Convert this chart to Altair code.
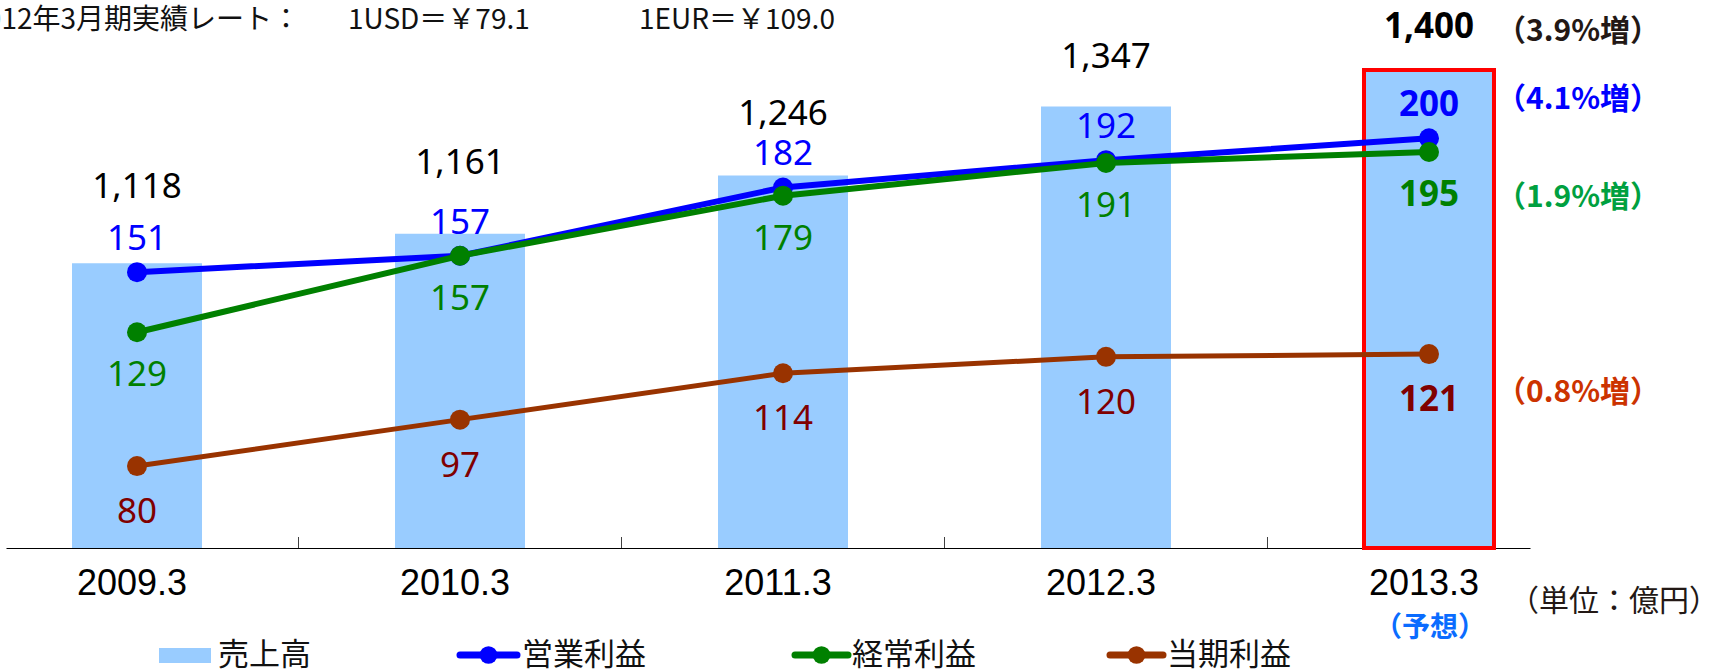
import altair as alt
import pandas as pd

# ---------------- data ----------------
years = ["2009.3", "2010.3", "2011.3", "2012.3", "2013.3"]
sales = [1118, 1161, 1246, 1347, 1400]          # 売上高
operating = [151, 157, 182, 192, 200]           # 営業利益
ordinary = [129, 157, 179, 191, 195]            # 経常利益
net = [80, 97, 114, 120, 121]                   # 当期利益
series_names = ["売上高", "営業利益", "経常利益", "当期利益"]
growth_labels = ["（3.9%増）", "（4.1%増）", "（1.9%増）", "（0.8%増）"]
rate_title = "2012年3月期実績レート："
rate_usd = "1USD＝￥79.1"
rate_eur = "1EUR＝￥109.0"
unit_label = "（単位：億円）"
forecast_label = "（予想）"

# ---------------- layout / style ----------------
W, H = 1524, 508
CJK = "Noto Sans CJK JP"
NUM = "Noto Sans"
BAR_COLOR = "#99CCFF"
C_OP, C_ORD, C_NET = "#0000FF", "#008000", "#993300"
L_OP, L_ORD, L_NET = "#0000FF", "#008000", "#800000"

idx = list(range(len(years)))
df = pd.DataFrame({"idx": idx, "year": years, "sales": sales,
                   "op": operating, "ord": ordinary, "net": net})
last = len(years) - 1

x_scale = alt.Scale(domain=[-0.4056, 4.3127], nice=False, zero=False, padding=0)
x_axis = alt.Axis(title="", labels=False, ticks=False, grid=False, domain=True,
                  domainColor="#000000", domainWidth=1.2)
x_enc = alt.X("idx:Q", scale=x_scale, axis=x_axis)

bar_scale = alt.Scale(domain=[702, 1444], zero=False, nice=False, clamp=True)
bar_lbl_scale = alt.Scale(domain=[483, 1377], zero=False, nice=False)
line_scale = alt.Scale(domain=[50, 236], zero=False, nice=False)

base = alt.Chart(df)

bars = base.mark_bar(size=130, color=BAR_COLOR).encode(
    x=x_enc,
    y=alt.Y("sales:Q", scale=bar_scale, axis=None),
    stroke=alt.condition(alt.datum.idx == last, alt.value("#FF0000"), alt.value(BAR_COLOR)),
    strokeWidth=alt.condition(alt.datum.idx == last, alt.value(4), alt.value(0)),
)


def value_labels(field, scale, color, dy, fmt=""):
    enc = dict(x=x_enc, y=alt.Y(f"{field}:Q", scale=scale, axis=None),
               text=alt.Text(f"{field}:Q", format=fmt) if fmt else alt.Text(f"{field}:Q"))
    normal = base.transform_filter(alt.datum.idx < last).mark_text(
        font=NUM, fontSize=35, color=color, baseline="middle", align="center", dy=dy
    ).encode(**enc)
    bold = base.transform_filter(alt.datum.idx == last).mark_text(
        font=NUM, fontSize=35, color=color, baseline="middle", align="center", dy=dy,
        fontWeight="bold"
    ).encode(**enc)
    return [normal, bold]


bar_labels = value_labels("sales", bar_lbl_scale, "#000000", 0, ",")


def series(field, color, width):
    b = base.encode(x=x_enc, y=alt.Y(f"{field}:Q", scale=line_scale, axis=None))
    return [b.mark_line(color=color, strokeWidth=width),
            b.mark_circle(color=color, size=400, opacity=1)]


net_layers = series("net", C_NET, 5)
op_layers = series("op", C_OP, 6)
ord_layers = series("ord", C_ORD, 6)

op_labels = value_labels("op", line_scale, L_OP, -33)
ord_labels = value_labels("ord", line_scale, L_ORD, 43)
net_labels = value_labels("net", line_scale, L_NET, 46)

# inward ticks between categories
bounds = pd.DataFrame({"idx": [i + 0.5 for i in idx[:-1]]})
ticks = alt.Chart(bounds).mark_rule(color="#404040", strokeWidth=1).encode(
    x=x_enc, y=alt.value(H - 11), y2=alt.value(H))

# category labels
xlabels = base.mark_text(font="Liberation Sans", fontSize=36, color="#000000",
                         baseline="middle", align="center", dx=-5).encode(
    x=x_enc, y=alt.value(543.5), text="year:N")

dummy = pd.DataFrame({"k": [0]})


def note(text, x, y, size, color, weight="normal", align="center", font=CJK):
    return alt.Chart(dummy).mark_text(
        text=text, fontSize=size, color=color, fontWeight=weight, align=align,
        baseline="middle", font=font).encode(x=alt.value(x), y=alt.value(y))


notes = [
    note(rate_title, 294, -19, 28, "#111111", align="right"),
    note(rate_usd, 342, -19, 28, "#111111", align="left"),
    note(rate_eur, 633, -19, 28, "#111111", align="left"),
    note(growth_labels[0], 1572, -8, 30, "#231815", weight="bold"),
    note(growth_labels[1], 1572, 60, 30, "#0000FF", weight="bold"),
    note(growth_labels[2], 1572, 157.5, 30, "#00A040", weight="bold"),
    note(growth_labels[3], 1572, 352.5, 30, "#CC3300", weight="bold"),
    note(unit_label, 1608, 562, 30, "#231815"),
    note(forecast_label, 1424, 589, 28, "#0A6CFF", weight="bold"),
]

# legend
legend = [
    alt.Chart(dummy).mark_rect(color=BAR_COLOR).encode(
        x=alt.value(153), x2=alt.value(205), y=alt.value(608), y2=alt.value(623)),
    note(series_names[0], 212, 616, 31, "#111111", align="left"),
]
for name, color, x0, x1, tx in [
    (series_names[1], C_OP, 454, 511, 516),
    (series_names[2], C_ORD, 789, 842, 846),
    (series_names[3], C_NET, 1104, 1157, 1161),
]:
    legend.append(alt.Chart(dummy).mark_rule(color=color, strokeWidth=7, strokeCap="round").encode(
        x=alt.value(x0), x2=alt.value(x1), y=alt.value(615)))
    legend.append(alt.Chart(dummy).mark_circle(color=color, size=314, opacity=1).encode(
        x=alt.value((x0 + x1) / 2), y=alt.value(615)))
    legend.append(note(name, tx, 616, 31, "#111111", align="left"))

layers = ([bars, ticks] + bar_labels + net_layers + op_layers + ord_layers
          + op_labels + ord_labels + net_labels + [xlabels] + notes + legend)

chart = alt.layer(*layers).resolve_scale(y="independent").properties(
    width=W, height=H,
    padding={"left": 6, "top": 40, "right": 185, "bottom": 124},
    autosize=alt.AutoSizeParams(type="none"),
).configure_view(stroke="transparent")

chart.save("out.html", embed_options={"renderer": "svg", "actions": False})
